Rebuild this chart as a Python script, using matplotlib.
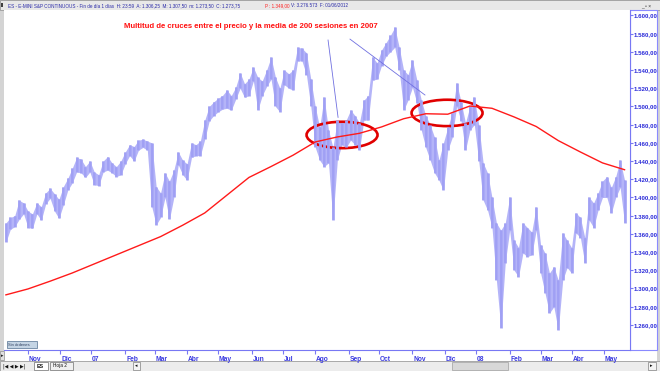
import numpy as np
import pandas as pd
import matplotlib
matplotlib.use("Agg")
import matplotlib.pyplot as plt
from matplotlib.patches import Ellipse, Rectangle
from matplotlib.transforms import blended_transform_factory

plt.rcParams['font.family'] = ['Liberation Sans', 'DejaVu Sans']

# barras de 3 sesiones, maximos y minimos
highs = [1372, 1378, 1380, 1397, 1394, 1385, 1382, 1394, 1390, 1405,
         1410, 1404, 1398, 1412, 1421, 1432, 1444, 1442, 1434, 1440,
         1428, 1425, 1440, 1445, 1438, 1434, 1440, 1450, 1458, 1456,
         1463, 1464, 1462, 1460, 1412, 1405, 1427, 1418, 1430, 1450,
         1441, 1437, 1460, 1458, 1462, 1485, 1500, 1505, 1509, 1512,
         1518, 1512, 1521, 1537, 1525, 1530, 1543, 1532, 1528, 1540,
         1554, 1532, 1520, 1540, 1536, 1540, 1565, 1564, 1559, 1530,
         1500, 1477, 1510, 1474, 1455, 1485, 1482, 1485, 1496, 1490,
         1482, 1507, 1512, 1554, 1548, 1562, 1570, 1578, 1587, 1565,
         1540, 1535, 1551, 1529, 1507, 1490, 1480, 1466, 1441, 1460,
         1477, 1493, 1526, 1505, 1482, 1500, 1510, 1480, 1438, 1427,
         1400, 1372, 1364, 1372, 1400, 1353, 1345, 1372, 1367, 1362,
         1390, 1348, 1339, 1317, 1324, 1309, 1361, 1353, 1345, 1383,
         1378, 1356, 1400, 1394, 1405, 1418, 1423, 1411, 1423, 1441,
         1419]
lows = [1351, 1365, 1368, 1376, 1382, 1367, 1366, 1382, 1375, 1393,
        1399, 1385, 1377, 1392, 1408, 1416, 1428, 1427, 1422, 1428,
        1414, 1413, 1428, 1430, 1427, 1423, 1425, 1437, 1446, 1440,
        1452, 1455, 1452, 1390, 1370, 1378, 1400, 1376, 1400, 1436,
        1425, 1419, 1444, 1446, 1446, 1464, 1484, 1490, 1494, 1497,
        1498, 1496, 1508, 1520, 1510, 1512, 1528, 1496, 1512, 1522,
        1530, 1500, 1494, 1524, 1520, 1518, 1550, 1550, 1535, 1500,
        1455, 1441, 1434, 1438, 1375, 1441, 1458, 1455, 1463, 1458,
        1452, 1485, 1485, 1529, 1530, 1545, 1555, 1560, 1565, 1540,
        1496, 1507, 1521, 1504, 1474, 1455, 1441, 1427, 1419, 1408,
        1452, 1466, 1500, 1484, 1452, 1474, 1480, 1440, 1397, 1386,
        1367, 1309, 1257, 1328, 1364, 1320, 1313, 1339, 1335, 1337,
        1364, 1317, 1295, 1273, 1280, 1254, 1309, 1323, 1317, 1361,
        1356, 1328, 1375, 1367, 1386, 1400, 1400, 1383, 1400, 1411,
        1372]
# media de 200 sesiones, cada 15 sesiones
ma200 = [1293, 1299.5, 1308, 1317, 1327, 1337, 1347, 1357, 1369.5, 1383,
         1402.5, 1422, 1434, 1446.5, 1461, 1466.5, 1470.5, 1477.5, 1486.5, 1492,
         1491.5, 1500.5, 1498, 1488.5, 1478, 1462.5, 1450, 1438, 1430.5]
month_names = ['Nov', 'Dic', '07', 'Feb', 'Mar', 'Abr', 'May', 'Jun', 'Jul', 'Ago',
               'Sep', 'Oct', 'Nov', 'Dic', '08', 'Feb', 'Mar', 'Abr', 'May']
price_ticks = list(range(1260, 1601, 20))

days = pd.bdate_range('2006-10-11', periods=421)
bar_x = np.arange(len(highs)) * 3
ma_x = np.arange(len(ma200)) * 15
month_idx = [i for i in range(1, len(days)) if days[i].month != days[i - 1].month]

W, H = 660, 371
fig = plt.figure(figsize=(6.6, 3.71), dpi=100)
fig.patch.set_facecolor('#d4d4d4')

def fr(x0, y0, x1, y1, z=1, **kw):
    fig.patches.append(Rectangle((x0 / W, 1 - y1 / H), (x1 - x0) / W, (y1 - y0) / H,
                                 transform=fig.transFigure, zorder=z, **kw))

def ft(x, y, s, **kw):
    fig.text(x / W, 1 - y / H, s, **kw)

# marco de la ventana
fr(4, 10, 657, 361, z=-5, facecolor='white', edgecolor='none')
fr(0, 0, 660, 9.5, facecolor='#e8e8e8', edgecolor='#9a9a9a', lw=0.6)
fr(0, 361, 660, 371, facecolor='#ececec', edgecolor='#a0a0a0', lw=0.6)
fr(1, 3, 3, 7, facecolor='#404040', edgecolor='none')

blue_t = '#2a2aa8'
ft(8, 5.5, 'ES - E-MINI S&P CONTINUOUS - Fin de día 1 días  H: 23:59  A: 1.306,25  M: 1.307,50  '
   'm: 1.273,50  C: 1.273,75', fontsize=3.3, color=blue_t, va='center')
ft(265, 5.5, 'P : 1.349,00', fontsize=3.3, color='#ff2020', va='center')
ft(291, 5.5, 'V: 3.276.573  F: 01/06/2012', fontsize=3.3, color=blue_t, va='center')
ft(641, 6, '_ ▫ ×', fontsize=3.5, color='#303030', va='center')

ax = fig.add_axes([4 / W, 1 - 350 / H, 626 / W, 340 / H])
ax.set_zorder(3)
ax.set_xlim(-1.3, 423.7)
ax.set_ylim(1232.4, 1606)

# banda de barras diarias
ax.fill_between(bar_x, lows, highs, color='#b4b4f8', lw=0)
ax.vlines(bar_x, lows, highs, color='#a8a8f6', lw=2.0)
ax.vlines(bar_x, lows, highs, color='#8a8af0', lw=0.35)
ax.plot(ma_x, ma200, color='#ff1a1a', lw=1.0)

for cx, cy in [(228.2, 1468.7), (299.5, 1492.9)]:
    ax.add_patch(Ellipse((cx, cy), 48.2, 29, fill=False, edgecolor='#e00000', lw=1.9))
ax.plot([218.7, 225.5], [1573, 1488], color='#7070e0', lw=0.6)
ax.plot([233.6, 284.5], [1574, 1512.6], color='#7070e0', lw=0.6)

ax.text(0.1915, 0.95, 'Multitud de cruces entre el precio y la media de 200 sesiones en 2007',
        transform=ax.transAxes, fontsize=5.6, color='#ff1010', fontweight='bold', va='center')

axis_blue = '#7878f4'
for side in ['top', 'left']:
    ax.spines[side].set_visible(False)
ax.spines['bottom'].set_color(axis_blue)
ax.spines['right'].set_color(axis_blue)
ax.set_xticks(month_idx)
ax.set_xticklabels([])
ax.tick_params(axis='x', direction='out', length=3, color=axis_blue, width=0.8)
trans = blended_transform_factory(ax.transData, ax.transAxes)
for i, name in zip(month_idx, month_names):
    ax.text(i + 0.6, -0.028, name, transform=trans, fontsize=4.8, fontweight='bold',
            color='#3a3ae0', ha='left', va='center', clip_on=False)

ax.yaxis.tick_right()
ax.set_yticks(price_ticks)
ax.set_yticklabels([f'{p:,}'.replace(',', '.') + ',00' for p in price_ticks])
ax.tick_params(axis='y', direction='out', length=2, pad=1, color=axis_blue, width=0.8,
               labelsize=4.4, labelcolor='#2a2ad8')
for lab in ax.get_yticklabels():
    lab.set_fontweight('bold')

# panel del eje de precios
fr(630, 10, 656.5, 350, facecolor='none', edgecolor='#8a8aff', lw=0.8)

# caja "Sin ordenes" y pestañas
fr(7, 341, 37, 348, z=4, facecolor='#c4d4e4', edgecolor='#6a84a0', lw=0.6)
ft(8.5, 344.5, 'Sin órdenes', fontsize=3, color='#304060', va='center', zorder=5)
fr(0, 351, 4, 360, facecolor='#e0e0e0', edgecolor='#909090', lw=0.5)
ft(1, 355.5, '▸', fontsize=3.5, color='#202020', va='center')
ft(3, 366, '|◀ ◀ ▶ ▶|', fontsize=3.4, color='#101010', va='center', family=['DejaVu Sans'])
fr(34, 362, 48, 370, facecolor='white', edgecolor='#707070', lw=0.5)
ft(36.5, 366, 'ES', fontsize=3.8, color='#101010', fontweight='bold', va='center')
fr(50, 362, 73, 370, facecolor='#f0f0f0', edgecolor='#707070', lw=0.5)
ft(53, 366, 'Hoja 2', fontsize=3.4, color='#101010', va='center')
fr(133, 362, 140, 370, facecolor='#f4f4f4', edgecolor='#808080', lw=0.5)
ft(134.5, 366, '◂', fontsize=3.5, color='#101010', va='center')
fr(452, 362, 508, 370, facecolor='#d8d8d8', edgecolor='#a0a0a0', lw=0.5)
fr(648, 362, 656, 370, facecolor='#f4f4f4', edgecolor='#808080', lw=0.5)
ft(650, 366, '▸', fontsize=3.5, color='#101010', va='center')

fig.savefig('out.png', dpi=100, facecolor=fig.get_facecolor())
